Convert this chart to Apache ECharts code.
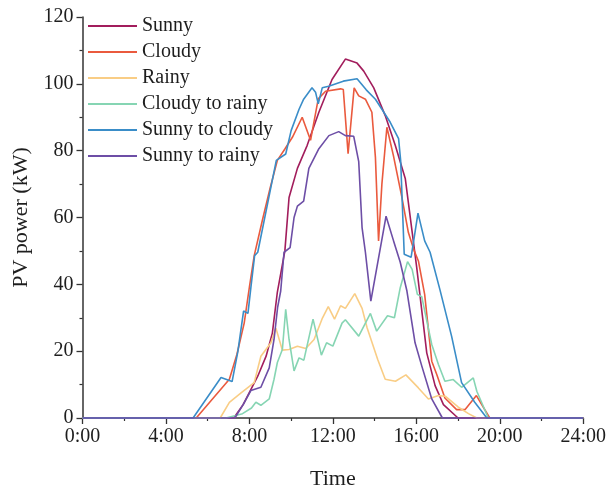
<!DOCTYPE html>
<html>
<head>
<meta charset="utf-8">
<script src="https://cdn.jsdelivr.net/npm/echarts@6/dist/echarts.min.js"></script>
<style>
  html, body { margin: 0; padding: 0; background: #fff; }
  #chart { width: 609px; height: 495px; }
</style>
</head>
<body>
<div id="chart"></div>
<script>
// PV output over one day for six weather types: [hour of day, kW]
const seriesNames = ['Sunny', 'Cloudy', 'Rainy', 'Cloudy to rainy', 'Sunny to cloudy', 'Sunny to rainy'];

const sunny = [[0,0],[7.25,0],[7.7,4],[8.0,7.7],[8.4,12.5],[8.8,18.5],[9.1,25.4],[9.34,37.7],[9.7,50],[9.9,66],[10.3,74.7],[10.77,81.6],[11.33,91.5],[11.96,101.3],[12.6,107.4],[13.16,106.2],[13.48,103.8],[13.96,98.8],[14.51,90.5],[14.99,81.6],[15.47,71.7],[16.02,45],[16.5,19.5],[16.9,9.7],[17.3,4],[18.0,0],[24,0]];

const cloudy = [[0,0],[5.45,0],[7.04,11.6],[7.4,19],[7.75,28.4],[8.0,39.2],[8.23,48.6],[8.63,59.4],[9.0,69],[9.34,77.1],[9.7,80.5],[10.06,84],[10.53,90],[10.93,83.1],[11.3,95.5],[11.65,97.8],[12.37,98.5],[12.5,98.3],[12.73,79.1],[13.02,98.8],[13.24,96.4],[13.56,95.4],[13.87,91.5],[14.04,78],[14.19,53],[14.35,70],[14.59,87],[14.9,78.6],[15.3,66.3],[15.62,55.5],[15.9,50],[16.1,47],[16.4,37],[16.74,17],[16.98,13],[17.37,6],[17.93,2.5],[18.33,2.5],[18.88,6.7],[19.52,0],[24,0]];

const rainy = [[0,0],[6.6,0],[7.04,4.7],[7.6,7.5],[8.23,10.6],[8.55,18.5],[9.03,22.5],[9.27,26.9],[9.58,20.3],[9.9,20.5],[10.3,21.5],[10.7,20.8],[11.1,23.5],[11.5,29.9],[11.78,33.3],[12.08,29.6],[12.37,33.6],[12.6,32.8],[13.05,37.2],[13.4,32.8],[13.64,27],[14.15,17.5],[14.51,11.6],[15.0,11],[15.5,12.9],[16.1,9],[16.58,5.7],[17.06,6.7],[17.4,6.5],[18.0,3.3],[18.5,1.3],[18.9,0],[24,0]];

const cloudyToRainy = [[0,0],[6.88,0],[7.67,1.3],[8.1,3],[8.31,4.7],[8.55,3.8],[8.95,5.7],[9.18,11.6],[9.34,16.6],[9.58,20.5],[9.74,32.5],[9.9,23.5],[10.14,14.1],[10.38,18],[10.61,17.3],[11.05,29.6],[11.45,18.8],[11.7,22.5],[12.0,21.5],[12.44,28.4],[12.6,29.4],[13.24,24.5],[13.8,31.3],[14.1,26],[14.62,30.6],[14.95,30],[15.23,39],[15.58,46.8],[15.8,44.5],[16.05,37],[16.26,36.3],[16.74,22],[17.06,16],[17.37,11],[17.77,11.5],[18.17,9.2],[18.73,12],[18.9,8],[19.45,0],[24,0]];

const sunnyToCloudy = [[0,0],[5.3,0],[6.64,12.1],[7.17,10.9],[7.45,20],[7.72,32],[7.93,31.3],[8.07,39],[8.25,48.6],[8.4,49.6],[9.29,77.1],[9.74,79],[10.0,86],[10.38,92.4],[10.6,95.4],[11.0,98.8],[11.17,97.5],[11.3,94],[11.49,98.8],[11.8,99.3],[12.5,100.8],[13.16,101.5],[13.6,98.2],[14.04,95.4],[14.35,92.4],[14.75,88.5],[15.15,83.6],[15.25,77],[15.42,49],[15.75,48.1],[16.08,61.3],[16.4,53],[16.66,49.6],[17.14,38.2],[17.69,24.5],[18.17,10.6],[18.8,4.7],[19.38,0],[24,0]];

const sunnyToRainy = [[0,0],[7.3,0],[7.7,4],[8.07,8.2],[8.55,9.2],[8.95,15],[9.18,23.5],[9.35,33],[9.5,38],[9.66,49.6],[9.95,51],[10.14,60],[10.3,63.4],[10.6,64.9],[10.85,74.7],[11.33,80.6],[11.81,84.5],[12.28,85.7],[12.6,84.5],[13.0,84.3],[13.24,76.7],[13.4,57],[13.56,49.6],[13.82,35],[14.55,60.4],[14.91,53],[15.23,46.6],[15.55,38],[15.94,22.5],[16.26,15.6],[16.74,5.7],[17.25,0],[24,0]];

const seriesData = [sunny, cloudy, rainy, cloudyToRainy, sunnyToCloudy, sunnyToRainy];
const seriesColors = ['#a21d5c', '#ea5a3e', '#f9cd85', '#86d5b3', '#3a8dc8', '#6d4ea6'];

// x ticks every 4 hours, labelled as clock times
const xTicks = [0, 4, 8, 12, 16, 20, 24];
const xTickLabels = ['0:00', '4:00', '8:00', '12:00', '16:00', '20:00', '24:00'];

const FONT = '"Liberation Serif", "Times New Roman", serif';
const INK = '#1e1e1e';

const chart = echarts.init(document.getElementById('chart'), null, { renderer: 'canvas' });

chart.setOption({
  animation: false,
  backgroundColor: '#fff',
  grid: { left: 82.5, right: 23, top: 17, bottom: 72, containLabel: false },
  legend: {
    orient: 'vertical',
    left: 88,
    top: 16,
    icon: 'rect',
    itemWidth: 49,
    itemHeight: 2,
    itemGap: 6,
    padding: 0,
    textStyle: { fontFamily: FONT, fontSize: 20, color: INK, lineHeight: 20 },
    data: seriesNames
  },
  xAxis: {
    type: 'value',
    min: 0, max: 24, interval: 4,
    name: 'Time',
    nameLocation: 'middle',
    nameGap: 50,
    nameTextStyle: { fontFamily: FONT, fontSize: 22, color: INK },
    axisLine: { show: true, onZero: false, lineStyle: { color: '#333', width: 1.5 } },
    axisTick: { show: true, inside: false, length: 6, lineStyle: { color: '#333', width: 1.3 } },
    minorTick: { show: true, splitNumber: 2, length: 3, lineStyle: { color: '#333', width: 1.2 } },
    splitLine: { show: false },
    axisLabel: {
      fontFamily: FONT, fontSize: 20, color: INK, margin: 9,
      formatter: v => xTickLabels[xTicks.indexOf(v)]
    }
  },
  yAxis: {
    type: 'value',
    min: 0, max: 120, interval: 20,
    name: 'PV power (kW)',
    nameLocation: 'middle',
    nameGap: 45,
    nameTextStyle: { fontFamily: FONT, fontSize: 22, color: INK },
    axisLine: { show: true, lineStyle: { color: '#333', width: 1.5 } },
    axisTick: { show: true, inside: false, length: 6, lineStyle: { color: '#333', width: 1.3 } },
    minorTick: { show: true, splitNumber: 2, length: 3, lineStyle: { color: '#333', width: 1.2 } },
    splitLine: { show: false },
    axisLabel: { fontFamily: FONT, fontSize: 20, color: INK, margin: 9 }
  },
  series: seriesNames.map((name, i) => ({
    name,
    type: 'line',
    data: seriesData[i],
    showSymbol: false,
    symbol: 'none',
    clip: false,
    color: seriesColors[i],
    lineStyle: { width: 1.6, color: seriesColors[i] },
    z: 2 + i
  }))
});
</script>
</body>
</html>
